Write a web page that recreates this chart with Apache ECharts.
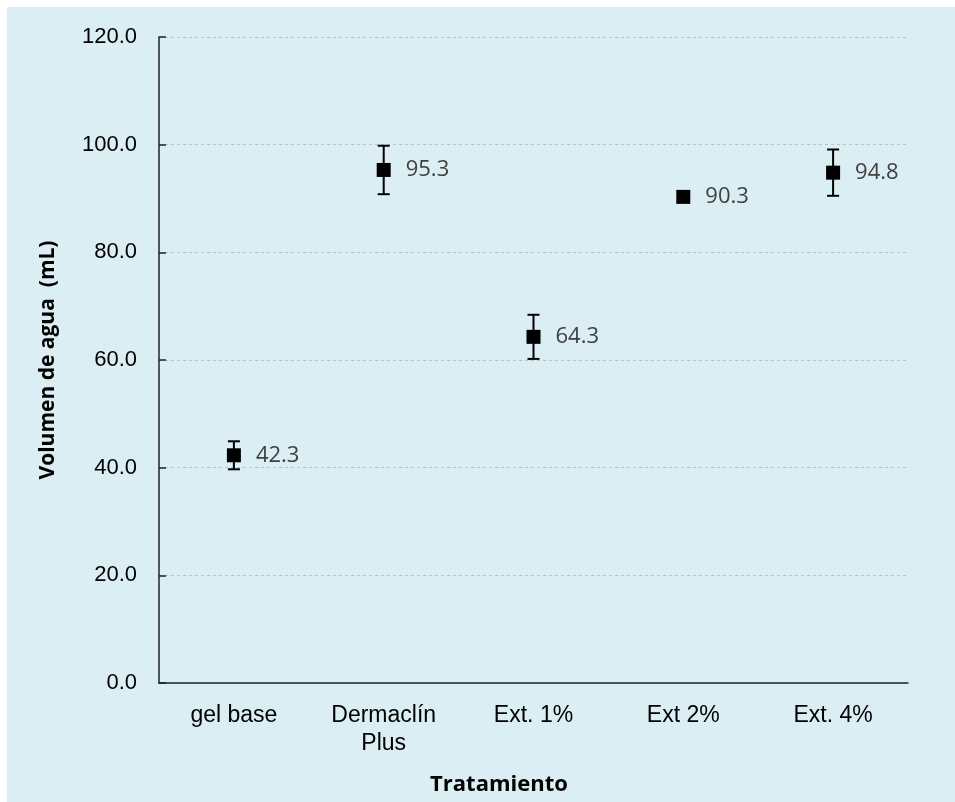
<!DOCTYPE html>
<html>
<head>
<meta charset="utf-8">
<title>Volumen de agua por tratamiento</title>
<script src="https://cdn.jsdelivr.net/npm/echarts@6/dist/echarts.min.js"></script>
<style>
  html, body { margin: 0; padding: 0; background: #fff; }
  #chart { width: 955px; height: 802px; }
</style>
</head>
<body>
<div id="chart"></div>
<script>
    // datos
    var categorias = ['gel base', 'Dermaclín\nPlus', 'Ext. 1%', 'Ext 2%', 'Ext. 4%'];
    var medias = [42.3, 95.3, 64.3, 90.3, 94.8];
    var errores = [2.6, 4.5, 4.1, 0, 4.3];   // desviacion estandar aprox.
    var ticksY = [0, 20, 40, 60, 80, 100, 120];

    var barrasError = medias.map(function (m, i) {
        return [i, m - errores[i], m + errores[i]];
    });

    var chart = echarts.init(document.getElementById('chart'));

    var option = {
        backgroundColor: '#ffffff',
        animation: false,
        graphic: [
            {
                type: 'rect',
                z: -10,
                shape: { x: 7, y: 7, width: 948, height: 795 },
                style: { fill: '#DAEEF3' }
            },
            {
                type: 'text',
                x: 499,
                y: 785,
                style: {
                    text: 'Tratamiento',
                    fontFamily: 'Open Sans',
                    fontWeight: 'bold',
                    fontSize: 22,
                    fill: '#000',
                    textAlign: 'center',
                    textVerticalAlign: 'middle'
                }
            }
        ],
        grid: { left: 159, right: 47, top: 37, bottom: 119 },
        xAxis: {
            type: 'category',
            data: categorias,
            boundaryGap: true,
            axisLine: { lineStyle: { color: '#222', width: 1.5 } },
            axisTick: { inside: true, length: 7, interval: 0, lineStyle: { color: '#222', width: 1.5 } },
            axisLabel: {
                interval: 0,
                margin: 19,
                color: '#000',
                fontFamily: 'Liberation Sans',
                fontSize: 23,
                lineHeight: 28
            },
            splitLine: { show: false }
        },
        yAxis: {
            type: 'value',
            min: ticksY[0],
            max: ticksY[ticksY.length - 1],
            interval: 20,
            name: 'Volumen de agua  (mL)',
            nameLocation: 'middle',
            nameGap: 100,
            nameTextStyle: {
                fontFamily: 'Open Sans',
                fontWeight: 'bold',
                fontSize: 21,
                color: '#000'
            },
            axisLine: { show: true, lineStyle: { color: '#222', width: 1.5 } },
            axisTick: { show: true, inside: true, length: 7, lineStyle: { color: '#222', width: 1.5 } },
            axisLabel: {
                margin: 22,
                color: '#000',
                fontFamily: 'Liberation Sans',
                fontSize: 22,
                formatter: function (v) { return v.toFixed(1); }
            },
            splitLine: {
                show: true,
                lineStyle: { color: '#bfbfbf', type: [3, 3], width: 1 }
            }
        },
        series: [
            {
                type: 'custom',
                name: 'error',
                data: barrasError,
                z: 3,
                renderItem: function (params, api) {
                    var x = api.value(0);
                    var lo = api.coord([x, api.value(1)]);
                    var hi = api.coord([x, api.value(2)]);
                    if (Math.abs(lo[1] - hi[1]) < 1) return null;
                    var w = 6;
                    var st = { stroke: '#000', lineWidth: 2 };
                    return {
                        type: 'group',
                        children: [
                            { type: 'line', shape: { x1: hi[0], y1: hi[1], x2: lo[0], y2: lo[1] }, style: st },
                            { type: 'line', shape: { x1: hi[0] - w, y1: hi[1], x2: hi[0] + w, y2: hi[1] }, style: st },
                            { type: 'line', shape: { x1: lo[0] - w, y1: lo[1], x2: lo[0] + w, y2: lo[1] }, style: st }
                        ]
                    };
                }
            },
            {
                type: 'scatter',
                name: 'media',
                data: medias,
                z: 5,
                symbol: 'rect',
                symbolSize: 14,
                itemStyle: { color: '#000', opacity: 1 },
                label: {
                    show: true,
                    position: 'right',
                    distance: 15,
                    color: '#404040',
                    fontFamily: 'Open Sans',
                    fontSize: 22,
                    formatter: function (p) { return p.value.toFixed(1); }
                }
            }
        ]
    };

    chart.setOption(option);
</script>
</body>
</html>
